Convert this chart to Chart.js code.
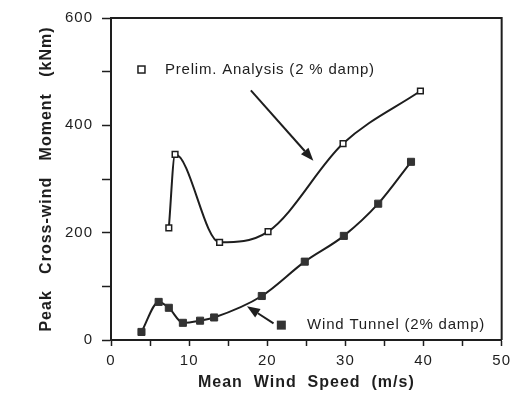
<!DOCTYPE html>
<html>
<head>
<meta charset="utf-8">
<script src="https://cdn.jsdelivr.net/npm/chart.js@4"></script>
<style>
html,body{margin:0;padding:0;background:#fff;}
#wrap{width:517px;height:411px;}
</style>
</head>
<body>
<div id="wrap"><canvas id="c" width="517" height="411"></canvas></div>
<script>
// Data
const prelimSpeed = [7.4, 8.2, 13.9, 20.1, 29.7, 39.6];
const prelimMoment = [209, 346, 182, 202, 366, 464];
const tunnelSpeed = [3.9, 6.1, 7.4, 9.2, 11.4, 13.2, 19.3, 24.8, 29.8, 34.2, 38.4];
const tunnelMoment = [15, 71, 60, 32, 36, 42, 82, 146, 194, 254, 332];
const xTickLabels = [0, 10, 20, 30, 40, 50];
const yTickLabels = [0, 200, 400, 600];
const prelimLabel = 'Prelim. Analysis (2 % damp)';
const tunnelLabel = 'Wind Tunnel (2% damp)';
const xTitle = 'Mean  Wind  Speed  (m/s)';
const yTitle = 'Peak   Cross-wind   Moment   (kNm)';

const toPts = (xs, ys) => xs.map((x, i) => ({x: x, y: ys[i]}));
const INK = '#1e1e1e';
const FONT = "'Liberation Sans', Arial, sans-serif";

const spacingPlugin = {
  id: 'spacing',
  beforeUpdate(chart) { chart.ctx.letterSpacing = '1px'; },
  beforeDraw(chart) { chart.ctx.letterSpacing = '1px'; }
};

function arrow(ctx, x1, y1, x2, y2) {
  const ang = Math.atan2(y2 - y1, x2 - x1);
  const L = 13, W = 5;
  const bx = x2 - L * Math.cos(ang), by = y2 - L * Math.sin(ang);
  ctx.beginPath();
  ctx.moveTo(x1, y1);
  ctx.lineTo(bx, by);
  ctx.stroke();
  ctx.beginPath();
  ctx.moveTo(x2, y2);
  ctx.lineTo(bx + W * Math.sin(ang), by - W * Math.cos(ang));
  ctx.lineTo(bx - W * Math.sin(ang), by + W * Math.cos(ang));
  ctx.closePath();
  ctx.fill();
}

const notesPlugin = {
  id: 'notes',
  afterDraw(chart) {
    const ctx = chart.ctx;
    const xs = chart.scales.x, ys = chart.scales.y;
    const px = v => xs.getPixelForValue(v), py = v => ys.getPixelForValue(v);
    const ca = chart.chartArea;
    ctx.save();
    // frame top & right
    ctx.strokeStyle = INK;
    ctx.lineWidth = 2;
    ctx.beginPath();
    ctx.moveTo(ca.left, ca.top);
    ctx.lineTo(ca.right, ca.top);
    ctx.lineTo(ca.right, ca.bottom);
    ctx.stroke();
    // legend markers
    ctx.lineWidth = 1.5;
    ctx.fillStyle = '#fff';
    ctx.strokeRect(px(3.9) - 3.5, py(504) - 3.5, 7, 7);
    ctx.fillStyle = '#333';
    ctx.fillRect(px(21.8) - 4.5, py(27.7) - 4.5, 9, 9);
    // legend text
    ctx.letterSpacing = '0.8px';
    ctx.fillStyle = INK;
    ctx.font = '15px ' + FONT;
    ctx.textBaseline = 'middle';
    ctx.textAlign = 'left';
    ctx.fillText(prelimLabel, px(6.9), py(504));
    ctx.fillText(tunnelLabel, px(25.1), py(27.7));
    // arrows
    ctx.strokeStyle = INK;
    ctx.fillStyle = INK;
    ctx.lineWidth = 2;
    arrow(ctx, px(17.9), py(465), px(25.9), py(334));
    arrow(ctx, px(20.8), py(31), px(17.4), py(63));
    ctx.restore();
  }
};

new Chart(document.getElementById('c'), {
  type: 'scatter',
  data: {
    datasets: [
      {
        label: prelimLabel,
        data: toPts(prelimSpeed, prelimMoment),
        showLine: true,
        cubicInterpolationMode: 'monotone',
        borderColor: INK,
        borderWidth: 2,
        pointStyle: 'rect',
        pointRadius: 4,
        pointBackgroundColor: '#fff',
        pointBorderColor: INK,
        pointBorderWidth: 1.5
      },
      {
        label: tunnelLabel,
        data: toPts(tunnelSpeed, tunnelMoment),
        showLine: true,
        cubicInterpolationMode: 'monotone',
        borderColor: INK,
        borderWidth: 2,
        pointStyle: 'rect',
        pointRadius: 5,
        pointBackgroundColor: '#333',
        pointBorderColor: '#333',
        pointBorderWidth: 1
      }
    ]
  },
  options: {
    responsive: false,
    animation: false,
    devicePixelRatio: 1,
    layout: {padding: {top: 15, right: 12, left: 0, bottom: 0}},
    plugins: {legend: {display: false}, tooltip: {enabled: false}},
    scales: {
      x: {
        type: 'linear',
        min: 0, max: 50,
        afterFit(s) { s.height = 71; },
        afterBuildTicks(s) {
          const t = [];
          for (let v = 0; v <= 50; v += 5) t.push({value: v});
          s.ticks = t;
        },
        ticks: {
          color: INK,
          font: {family: FONT, size: 15},
          padding: 6,
          maxRotation: 0,
          autoSkip: false,
          callback: v => (xTickLabels.includes(v) ? String(v) : '')
        },
        grid: {drawOnChartArea: false, tickLength: 6, color: INK, tickColor: INK, tickWidth: 1.5},
        border: {color: INK, width: 2},
        title: {
          display: true, text: xTitle, color: INK,
          font: {family: FONT, size: 16, weight: 'bold'},
          padding: {top: 0, bottom: 19}
        }
      },
      y: {
        type: 'linear',
        min: 0, max: 600,
        afterFit(s) { s.width = 111; },
        afterBuildTicks(s) {
          const t = [];
          for (let v = 0; v <= 600; v += 100) t.push({value: v});
          s.ticks = t;
        },
        ticks: {
          color: INK,
          font: {family: FONT, size: 15},
          padding: 9,
          autoSkip: false,
          callback: v => (yTickLabels.includes(v) ? String(v) : '')
        },
        grid: {drawOnChartArea: false, tickLength: 9, color: INK, tickColor: INK, tickWidth: 1.5},
        border: {color: INK, width: 2},
        title: {
          display: true, text: yTitle, color: INK,
          font: {family: FONT, size: 16, weight: 'bold'},
          padding: {top: 37, bottom: 0}
        }
      }
    }
  },
  plugins: [spacingPlugin, notesPlugin]
});
</script>
</body>
</html>
